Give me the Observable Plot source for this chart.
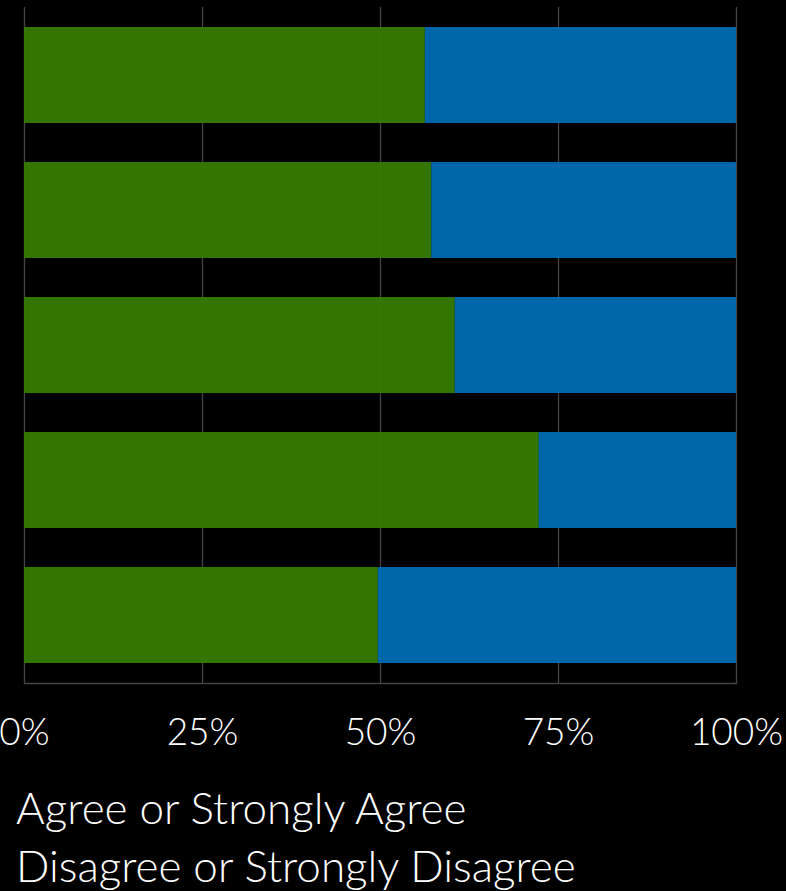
<!DOCTYPE html>
<html>
<head>
<meta charset="utf-8">
<script src="https://cdn.jsdelivr.net/npm/d3@7"></script>
<script src="https://cdn.jsdelivr.net/npm/@observablehq/plot@0.6"></script>
<style>
  html, body { margin: 0; padding: 0; background: #000; }
  body { width: 786px; height: 891px; overflow: hidden; font-family: Lato, "Open Sans", sans-serif; font-weight: 300; color: #fff; }
  #chart svg { display: block; }
  #legend { padding-left: 16px; padding-top: 8px; font-size: 44px; }
  #legend div { line-height: 58px; height: 58px; white-space: nowrap; }
</style>
</head>
<body>
<div id="chart"></div>
<div id="legend"></div>
<script>
const categories = ["Statement 1", "Statement 2", "Statement 3", "Statement 4", "Statement 5"];
const responses = ["Agree or Strongly Agree", "Disagree or Strongly Disagree"];
const agree = [0.563, 0.572, 0.605, 0.723, 0.497];
const disagree = [0.437, 0.428, 0.395, 0.277, 0.503];
const colors = ["#377a00", "#006bb3"];
const xTicks = [0, 0.25, 0.5, 0.75, 1];

const data = [];
categories.forEach((c, i) => {
  data.push({category: c, response: responses[0], value: agree[i]});
  data.push({category: c, response: responses[1], value: disagree[i]});
});

const chart = Plot.plot({
  width: 786,
  height: 770,
  marginLeft: 24,
  marginRight: 50,
  marginTop: 7,
  marginBottom: 87,
  style: {background: "#000", color: "#fff", fontFamily: "Lato, 'Open Sans', sans-serif", overflow: "visible"},
  x: {domain: [0, 1], axis: null},
  y: {domain: categories, axis: null, paddingInner: 0.29, paddingOuter: 0.145},
  color: {domain: responses, range: colors},
  marks: [
    Plot.ruleX(xTicks, {stroke: "#444", strokeWidth: 1.3}),
    Plot.frame({anchor: "bottom", stroke: "#444", strokeWidth: 1.5}),
    Plot.barX(data, {x: "value", y: "category", fill: "response", fillOpacity: 0.95, order: responses}),
    Plot.axisX(xTicks, {
      tickSize: 0, tickPadding: 35, fontSize: 37, fontWeight: 300,
      tickFormat: d3.format(".0%"), label: null,
      fill: "#fff"
    })
  ]
});
document.getElementById("chart").appendChild(chart);

const legend = document.getElementById("legend");
responses.forEach(r => {
  const d = document.createElement("div");
  d.textContent = r;
  legend.appendChild(d);
});
</script>
</body>
</html>
